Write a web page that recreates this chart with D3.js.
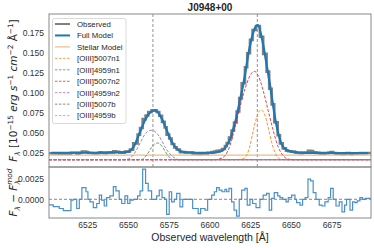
<!DOCTYPE html>
<html>
<head>
<meta charset="utf-8">
<script src="https://cdn.jsdelivr.net/npm/d3@7"></script>
<style>
  body { margin: 0; background: #fff; }
  text { font-family: "Liberation Sans", Arial, sans-serif; fill: #262626; }
  text.ylab, .math { font-family: "DejaVu Sans", sans-serif; }
</style>
</head>
<body>
<svg id="chart" width="374" height="248"></svg>
<script>
// Spectrum bins: left edges (last value is the right edge of the last bin)
var binEdges = [
    6501.5, 6504.1, 6507.8, 6510.3, 6515.0, 6516.4, 6518.5, 6520.1, 6521.7, 6524.2,
    6525.4, 6526.7, 6528.7, 6530.8, 6532.4, 6533.8, 6535.4, 6536.9, 6538.9, 6541.0,
    6542.6, 6544.6, 6546.1, 6548.1, 6549.8, 6551.2, 6553.2, 6555.9, 6557.4, 6559.0,
    6560.8, 6562.4, 6564.5, 6567.6, 6569.2, 6570.9, 6572.5, 6573.7, 6575.3, 6576.8,
    6578.4, 6579.9, 6581.9, 6583.6, 6585.2, 6589.7, 6593.1, 6594.6, 6597.3, 6598.9,
    6601.4, 6603.0, 6604.4, 6606.0, 6607.7, 6609.5, 6610.6, 6612.0, 6613.6, 6615.1,
    6616.7, 6618.3, 6619.8, 6621.8, 6623.2, 6624.9, 6626.5, 6628.6, 6631.0, 6633.0,
    6635.1, 6636.7, 6638.2, 6639.8, 6641.9, 6643.3, 6645.0, 6647.0, 6648.4, 6650.5,
    6652.5, 6653.5, 6655.6, 6657.2, 6658.8, 6660.5, 6662.1, 6663.7, 6665.4, 6667.4,
    6669.1, 6670.9, 6672.9, 6674.4, 6676.0, 6677.7, 6679.7, 6681.4, 6683.0, 6684.2,
    6686.3, 6687.9, 6689.3, 6690.7, 6692.4, 6694.0, 6695.6, 6699.2
];

// Full model flux in each bin
var fullModel = [
    0.0245, 0.0245, 0.0245, 0.0245, 0.0245, 0.0245, 0.0245, 0.0245, 0.0245, 0.0245,
    0.0245, 0.0245, 0.0245, 0.0245, 0.0245, 0.0246, 0.0246, 0.0246, 0.0247, 0.0247,
    0.0248, 0.0249, 0.0251, 0.0255, 0.0262, 0.0285, 0.0362, 0.0468, 0.0545, 0.0630,
    0.0693, 0.0746, 0.0776, 0.0752, 0.0698, 0.0630, 0.0563, 0.0490, 0.0415, 0.0358,
    0.0312, 0.0279, 0.0261, 0.0253, 0.0248, 0.0245, 0.0244, 0.0244, 0.0245, 0.0245,
    0.0247, 0.0250, 0.0254, 0.0262, 0.0282, 0.0318, 0.0358, 0.0423, 0.0527, 0.0637,
    0.0782, 0.0932, 0.1105, 0.1305, 0.1500, 0.1660, 0.1790, 0.1845, 0.1700, 0.1480,
    0.1255, 0.1060, 0.0850, 0.0620, 0.0460, 0.0360, 0.0300, 0.0275, 0.0262, 0.0254,
    0.0250, 0.0248, 0.0246, 0.0245, 0.0244, 0.0244, 0.0243, 0.0243, 0.0243, 0.0242,
    0.0242, 0.0242, 0.0242, 0.0242, 0.0241, 0.0241, 0.0241, 0.0241, 0.0241, 0.0241,
    0.0240, 0.0240, 0.0240, 0.0240, 0.0240, 0.0240, 0.0240
];

// Residuals F - Fmod in each bin
var residuals = [
    -0.00067, -0.00087, -0.0011, -0.00135, -0.0001, 0, -0.0011, 0, 0.0014, 0.0009,
    0, -0.0003, -0.001, -0.0005, 0.0005, -0.0001, -0.0008, 0.0002, 0.0004, 0.0015,
    0.001, 0, -0.0005, 0.0004, -0.0005, -0.0001, 0, 0.0004, 0.001, 0.0036,
    0.0019, 0.001, 0, 0.0004, 0.0011, 0.0002, 0, -0.0018, 0.0009, -0.0003,
    0, 0.0007, -0.0009, 0, 0, -0.0011, -0.0017, -0.0011, -0.0013, 0,
    0.0005, 0.0009, 0.0014, 0.0011, 0.0009, 0.0012, 0.0009, 0.0013, -0.0003, -0.0013,
    -0.002, 0, 0.0011, 0.0013, -0.0007, 0, -0.0005, -0.001, 0, 0.0005,
    0.0007, -0.0013, 0.0001, 0.0008, 0.0004, 0.0002, 0, -0.0003, 0.0002, 0.0005,
    0, -0.0004, -0.0007, 0, 0.0002, 0.0024, 0.0022, 0.0008, 0, -0.0007,
    -0.0008, -0.0003, 0.0002, 0.0013, 0, -0.0008, -0.0003, -0.0015, -0.0007, 0,
    -0.0013, -0.0003, -0.0004, -0.0002, 0.0002, 0, 0.0001
];

// Stellar continuum
var stellarWave = [6501.5, 6699.2];
var stellarFlux = [0.0215, 0.0215];

// Line components
var n1_5007_wave = [6501.5, 6616.0, 6620.8, 6622.9, 6624.9, 6626.9, 6629.0, 6630.6, 6631.7, 6633.0, 6634.5, 6636.1, 6638.2, 6640.2, 6642.3, 6644.5, 6648.0, 6699.2];
var n1_5007_flux = [0.0157, 0.0157, 0.0170, 0.0215, 0.0333, 0.0521, 0.0689, 0.0765, 0.0785, 0.0760, 0.0690, 0.0560, 0.0376, 0.0250, 0.0180, 0.0160, 0.0157, 0.0157];

var n1_4959_wave = [6501.5, 6558.2, 6560.2, 6562.3, 6564.3, 6566.4, 6568.0, 6569.5, 6571.5, 6573.5, 6575.6, 6577.6, 6699.2];
var n1_4959_flux = [0.0157, 0.0157, 0.0187, 0.0241, 0.0307, 0.0357, 0.0367, 0.0357, 0.0307, 0.0241, 0.0187, 0.0157, 0.0157];

var n2_5007_wave = [6501.5, 6603.0, 6606.5, 6609.5, 6612.6, 6615.7, 6618.7, 6621.8, 6624.9, 6627.5, 6630.0, 6633.0, 6636.1, 6639.2, 6642.3, 6645.3, 6648.4, 6652.0, 6699.2];
var n2_5007_flux = [0.0157, 0.0157, 0.0170, 0.0207, 0.0333, 0.0564, 0.0815, 0.1044, 0.1211, 0.1266, 0.1211, 0.1023, 0.0772, 0.0521, 0.0313, 0.0207, 0.0165, 0.0157, 0.0157];

var n2_4959_wave = [6501.5, 6548.0, 6550.5, 6552.0, 6554.1, 6556.1, 6558.2, 6560.2, 6562.3, 6564.3, 6566.4, 6568.4, 6570.4, 6572.5, 6574.5, 6576.6, 6578.7, 6581.7, 6699.2];
var n2_4959_flux = [0.0157, 0.0157, 0.0170, 0.0190, 0.0241, 0.0313, 0.0396, 0.0471, 0.0513, 0.0526, 0.0513, 0.0471, 0.0408, 0.0325, 0.0263, 0.0212, 0.0180, 0.0157, 0.0157];

var b_5007_wave = [6501.5, 6699.2];
var b_5007_flux = [0.0158, 0.0158];
var b_4959_wave = [6501.5, 6699.2];
var b_4959_flux = [0.0155, 0.0155];

var lineCenters = [6565.3, 6629.4];
var xTicks = [6525, 6550, 6575, 6600, 6625, 6650, 6675];
var yTicks = [0.025, 0.050, 0.075, 0.100, 0.125, 0.150, 0.175];
var residTicks = [0.0000, 0.0025];

var components = [
    {name: "[OIII]5007n1", wave: n1_5007_wave, flux: n1_5007_flux, color: "#ff7f0e"},
    {name: "[OIII]4959n1", wave: n1_4959_wave, flux: n1_4959_flux, color: "#2ca02c"},
    {name: "[OIII]5007n2", wave: n2_5007_wave, flux: n2_5007_flux, color: "#d62728"},
    {name: "[OIII]4959n2", wave: n2_4959_wave, flux: n2_4959_flux, color: "#9467bd"},
    {name: "[OIII]5007b", wave: b_5007_wave, flux: b_5007_flux, color: "#8c564b"},
    {name: "[OIII]4959b", wave: b_4959_wave, flux: b_4959_flux, color: "#e377c2"}
];

(function () {
    var pLeft = 49, pRight = 371, pTop = 14, pMid = 167, pBottom = 218;
    var svg = d3.select("#chart");

    var x = d3.scaleLinear().domain([6501.5, 6699.2]).range([pLeft, pRight]);
    var y = d3.scaleLinear().domain([0.0066, 0.1985]).range([pMid, pTop]);
    var yr = d3.scaleLinear().domain([-0.00223, 0.00385]).range([pBottom, pMid]);

    // clip paths
    svg.append("clipPath").attr("id", "clipMain").append("rect")
        .attr("x", pLeft).attr("y", pTop).attr("width", pRight - pLeft).attr("height", pMid - pTop);
    svg.append("clipPath").attr("id", "clipRes").append("rect")
        .attr("x", pLeft).attr("y", pMid).attr("width", pRight - pLeft).attr("height", pBottom - pMid);

    var bins = residuals.map(function (r, i) {
        return {
            x0: binEdges[i], x1: binEdges[i + 1],
            xc: (binEdges[i] + binEdges[i + 1]) / 2,
            model: fullModel[i], resid: r, obs: fullModel[i] + r
        };
    });

    var stepPoints = function (key) {
        var pts = bins.map(function (b) { return [b.x0, b[key]]; });
        pts.push([bins[bins.length - 1].x1, bins[bins.length - 1][key]]);
        return pts;
    };

    var stepLine = function (ys) {
        return d3.line().curve(d3.curveStepAfter)
            .x(function (d) { return x(d[0]); }).y(function (d) { return ys(d[1]); });
    };
    var smooth = d3.line().curve(d3.curveMonotoneX)
        .x(function (d) { return x(d[0]); }).y(function (d) { return y(d[1]); });

    var main = svg.append("g").attr("clip-path", "url(#clipMain)");

    // vertical line markers
    main.selectAll("line.center").data(lineCenters).enter().append("line")
        .attr("x1", function (d) { return x(d); }).attr("x2", function (d) { return x(d); })
        .attr("y1", pTop).attr("y2", pMid)
        .attr("stroke", "#777").attr("stroke-width", 0.8).attr("stroke-dasharray", "3,2");

    main.append("path").datum(stepPoints("obs"))
        .attr("d", stepLine(y)).attr("fill", "none")
        .attr("stroke", "#808080").attr("stroke-width", 2.6);

    main.append("path").datum(bins.map(function (b) { return [b.xc, b.model]; }))
        .attr("d", smooth).attr("fill", "none")
        .attr("stroke", "#1f77b4").attr("stroke-width", 2.2);

    main.append("path").datum(d3.zip(stellarWave, stellarFlux))
        .attr("d", smooth).attr("fill", "none")
        .attr("stroke", "#ecbb88").attr("stroke-width", 1.4);

    components.forEach(function (c) {
        main.append("path").datum(d3.zip(c.wave, c.flux))
            .attr("d", smooth).attr("fill", "none")
            .attr("stroke", c.color).attr("stroke-opacity", 0.85)
            .attr("stroke-width", 1).attr("stroke-dasharray", "3,1.6");
    });

    // residual panel
    var res = svg.append("g").attr("clip-path", "url(#clipRes)");
    res.append("line").attr("x1", pLeft).attr("x2", pRight)
        .attr("y1", yr(0)).attr("y2", yr(0))
        .attr("stroke", "#888").attr("stroke-width", 1).attr("stroke-dasharray", "3,2");
    res.append("path").datum(stepPoints("resid"))
        .attr("d", stepLine(yr)).attr("fill", "none")
        .attr("stroke", "#4a90c8").attr("stroke-width", 1.2);

    // axes
    var fmtAxis = function (g) {
        g.select(".domain").remove();
        g.selectAll("text").attr("font-size", "8.5px").style("fill", "#333");
    };
    svg.append("g").attr("transform", "translate(" + pLeft + ",0)")
        .call(d3.axisLeft(y).tickValues(yTicks).tickFormat(d3.format(".3f")).tickSize(0).tickPadding(5))
        .call(fmtAxis);
    svg.append("g").attr("transform", "translate(" + pLeft + ",0)")
        .call(d3.axisLeft(yr).tickValues(residTicks).tickFormat(d3.format(".4f")).tickSize(0).tickPadding(5))
        .call(fmtAxis);
    svg.append("g").attr("transform", "translate(0," + pBottom + ")")
        .call(d3.axisBottom(x).tickValues(xTicks).tickFormat(d3.format("d")).tickSize(0).tickPadding(4))
        .call(fmtAxis);

    // frames
    svg.append("rect").attr("x", pLeft).attr("y", pTop).attr("width", pRight - pLeft).attr("height", pMid - pTop)
        .attr("fill", "none").attr("stroke", "#888").attr("stroke-width", 1);
    svg.append("rect").attr("x", pLeft).attr("y", pMid).attr("width", pRight - pLeft).attr("height", pBottom - pMid)
        .attr("fill", "none").attr("stroke", "#888").attr("stroke-width", 1);

    // legend
    var legendItems = [
        {name: "Observed", color: "#808080", width: 2, dash: null},
        {name: "Full Model", color: "#1f77b4", width: 2, dash: null},
        {name: "Stellar Model", color: "#ecbb88", width: 1.2, dash: null}
    ].concat(components.map(function (c) {
        return {name: c.name, color: c.color, width: 1, dash: "2.5,1.5"};
    }));

    var legend = svg.append("g");
    legend.append("rect").attr("x", 52.5).attr("y", 18.5).attr("width", 73.5).attr("height", 105)
        .attr("rx", 2).attr("fill", "#fff").attr("fill-opacity", 0.85)
        .attr("stroke", "#d0d0d0").attr("stroke-width", 0.8);
    var li = legend.selectAll("g.item").data(legendItems).enter().append("g")
        .attr("transform", function (d, i) { return "translate(0," + (24 + i * 11.45) + ")"; });
    li.append("line").attr("x1", 55).attr("x2", 70).attr("y1", 0).attr("y2", 0)
        .attr("stroke", function (d) { return d.color; })
        .attr("stroke-opacity", function (d, i) { return i > 2 ? 0.75 : 1; })
        .attr("stroke-width", function (d) { return d.width; })
        .attr("stroke-dasharray", function (d) { return d.dash; });
    li.append("text").attr("x", 77).attr("y", 2.8).attr("font-size", "7.8px")
        .text(function (d) { return d.name; });

    // title
    svg.append("text").attr("x", (pLeft + pRight) / 2).attr("y", 11)
        .attr("text-anchor", "middle").attr("font-size", "10px").attr("font-weight", "bold")
        .text("J0948+00");

    // x label
    svg.append("text").attr("x", (pLeft + pRight) / 2).attr("y", 241)
        .attr("text-anchor", "middle").attr("font-size", "10.5px")
        .text("Observed wavelength [Å]");

    // y labels with math parts
    var addParts = function (t, parts) {
        parts.forEach(function (p) {
            var s = t.append("tspan").text(p.t);
            if (p.i) s.attr("font-style", "italic");
            if (p.s) s.attr("font-size", "7.3px");
            if (p.dy) s.attr("dy", p.dy);
            if (p.dx) s.attr("dx", p.dx);
        });
    };

    var yl = svg.append("text").attr("class", "ylab")
        .attr("transform", "translate(17," + ((pTop + pMid) / 2) + ") rotate(-90)")
        .attr("text-anchor", "middle").attr("font-size", "10.5px");
    addParts(yl, [
        {t: "F", i: true}, {t: "λ", i: true, s: true, dy: 2.5},
        {t: " [10", dy: -2.5}, {t: "−15", s: true, dy: -4.5},
        {t: " erg", i: true, dy: 4.5}, {t: " s", i: true}, {t: "−1", s: true, dy: -4.5},
        {t: " cm", i: true, dy: 4.5}, {t: "−2", s: true, dy: -4.5},
        {t: " Å", dy: 4.5}, {t: "−1", s: true, dy: -4.5}, {t: "]", dy: 4.5}
    ]);

    var rl = svg.append("text").attr("class", "ylab")
        .attr("transform", "translate(17," + ((pMid + pBottom) / 2) + ") rotate(-90)")
        .attr("text-anchor", "middle").attr("font-size", "10.5px");
    addParts(rl, [
        {t: "F", i: true}, {t: "λ", i: true, s: true, dy: 2.5},
        {t: " − ", dy: -2.5}, {t: "F", i: true}, {t: "λ", i: true, s: true, dy: 2.5},
        {t: "mod", i: true, s: true, dy: -7.5, dx: -4.5}
    ]);
})();
</script>
</body>
</html>
